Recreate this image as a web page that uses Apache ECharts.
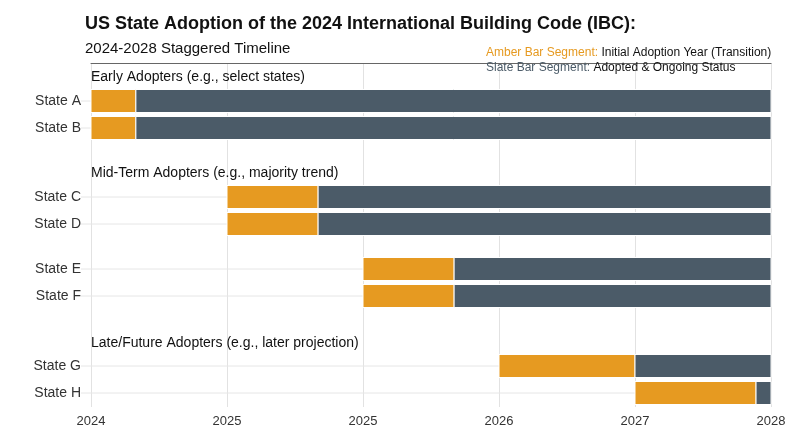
<!DOCTYPE html><html><head><meta charset="utf-8"><script src="https://cdn.jsdelivr.net/npm/echarts@6/dist/echarts.min.js"></script>
<style>html,body{margin:0;padding:0;background:#fff}#c{width:800px;height:447px}</style></head><body><div id="c"></div>
<script>
const states=['State A','State B','State C','State D','State E','State F','State G','State H'];
const rowPos=[38,65,134,161,206,233,303,330];
const startVal=[0,0,1,1,2,2,3,4];
const adoptEnd=[0.33,0.33,1.67,1.67,2.67,2.67,4,4.89];
const endVal=[5,5,5,5,5,5,5,5];
const tickLabels=['2024','2025','2025','2026','2027','2028'];
const groups=['Early Adopters (e.g., select states)','Mid-Term Adopters (e.g., majority trend)','Late/Future Adopters (e.g., later projection)'];
const groupPos=[14,110,280];
const AMBER='#E69A21',SLATE='#4B5B68';
const ch=echarts.init(document.getElementById('c'));
const barData=states.map((s,i)=>[startVal[i],adoptEnd[i],endVal[i],rowPos[i],s]);
ch.setOption({
  animation:false,
  title:[{text:'US State Adoption of the 2024 International Building Code (IBC):',left:80,top:10,textStyle:{fontFamily:'Liberation Sans',fontSize:18,fontWeight:'bold',color:'#111'}},
    {text:'2024-2028 Staggered Timeline',left:80,top:36,textStyle:{fontFamily:'Liberation Sans',fontSize:15,fontWeight:'normal',color:'#111'}},
    {text:'{a|Amber Bar Segment:} Initial Adoption Year (Transition)\n{s|Slate Bar Segment:} Adopted & Ongoing Status',left:481,top:40,textStyle:{fontFamily:'Liberation Sans',fontSize:12,fontWeight:'normal',color:'#111',lineHeight:15,rich:{a:{color:AMBER,fontSize:12,fontFamily:'Liberation Sans'},s:{color:SLATE,fontSize:12,fontFamily:'Liberation Sans'}}}}],
  grid:{left:91,right:29,top:63,bottom:40},
  xAxis:{type:'value',min:0,max:5,interval:1,
    axisLine:{show:true,lineStyle:{color:'#666'}},axisTick:{show:false},
    axisLabel:{formatter:v=>tickLabels[Math.round(v)],fontFamily:'Liberation Sans',fontSize:13,color:'#333',margin:8},
    splitLine:{show:true,lineStyle:{color:'#e2e2e2'}}},
  yAxis:{type:'value',min:0,max:344,inverse:true,show:false,splitLine:{show:false}},
  series:[{type:'custom',data:barData,encode:{x:[0,1,2],y:3},renderItem:(p,api)=>{
      const y=api.value(3);
      const a=api.coord([api.value(0),y]),b=api.coord([api.value(1),y]),e=api.coord([api.value(2),y]);
      const z0=api.coord([0,y]);
      const h=23;
      return {type:'group',children:[
        {type:'line',shape:{x1:z0[0]-10,y1:y?a[1]:0,x2:e[0],y2:a[1]},style:{stroke:'#e6e6e6',lineWidth:1},z2:0},
        {type:'rect',shape:{x:a[0],y:a[1]-h/2,width:b[0]-a[0],height:h},style:{fill:AMBER,stroke:'#fff',lineWidth:1}},
        {type:'rect',shape:{x:b[0],y:a[1]-h/2,width:e[0]-b[0],height:h},style:{fill:SLATE,stroke:'#fff',lineWidth:1}},
        {type:'text',x:z0[0]-10,y:a[1],style:{text:states[p.dataIndex],align:'right',verticalAlign:'middle',fontFamily:'Liberation Sans',fontSize:14,fill:'#333'}}
      ]};}},
    {type:'custom',data:groups.map((g,i)=>[0,groupPos[i]]),encode:{x:0,y:1},renderItem:(p,api)=>{
      const c=api.coord([api.value(0),api.value(1)]);
      return {type:'text',x:c[0],y:c[1],style:{text:groups[p.dataIndex],align:'left',verticalAlign:'middle',fontFamily:'Liberation Sans',fontSize:14,fill:'#111'}};}}]
});
</script></body></html>
